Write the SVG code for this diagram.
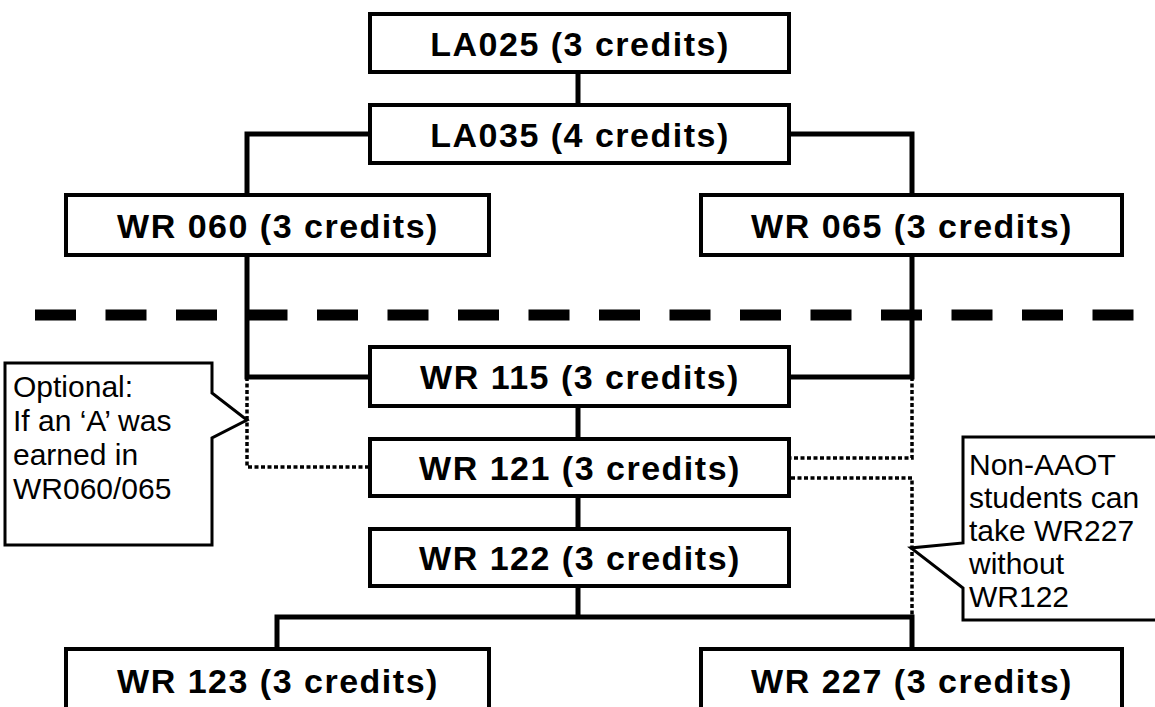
<svg xmlns="http://www.w3.org/2000/svg" width="1155" height="707" viewBox="0 0 1155 707">
<style>
.box{fill:#fff;stroke:#000;stroke-width:4}
.lbl{font-family:"Liberation Sans",Arial,sans-serif;font-weight:bold;font-size:34px;letter-spacing:1.5px;fill:#000;text-anchor:middle}
.con{fill:none;stroke:#000;stroke-width:5}
.dot{fill:none;stroke:#000;stroke-width:3.5;stroke-dasharray:4 2.5}
.call{fill:#fff;stroke:#000;stroke-width:3}
.ct{font-family:"Liberation Sans",Arial,sans-serif;font-size:30px;fill:#000}
</style>
<rect width="1155" height="707" fill="#fff"/>
<g id="divider">
<line x1="35" y1="315" x2="1134" y2="315" stroke="#000" stroke-width="11" stroke-dasharray="41 29.5"/>
</g>
<g id="connectors">
<path class="con" d="M578,72 V105"/>
<path class="con" d="M368,134 H247 V195"/>
<path class="con" d="M791,134 H912 V195"/>
<path class="con" d="M247,255 V377 H368"/>
<path class="con" d="M912,255 V377 H791"/>
<path class="con" d="M578,406 V439"/>
<path class="con" d="M578,496 V529"/>
<path class="con" d="M578,586 V617"/>
<path class="con" d="M277,649 V617 H912 V649"/>
<path class="dot" d="M247,377 V467 H368"/>
<path class="dot" d="M912,377 V458 H791"/>
<path class="dot" d="M791,478 H912 V617"/>
</g>
<g id="la025"><rect class="box" x="370" y="14" width="419" height="58"/><text class="lbl" x="580" y="56">LA025 (3 credits)</text></g>
<g id="la035"><rect class="box" x="370" y="105" width="419" height="58"/><text class="lbl" x="580" y="147">LA035 (4 credits)</text></g>
<g id="wr060"><rect class="box" x="66" y="195" width="423" height="60"/><text class="lbl" x="278" y="238">WR 060 (3 credits)</text></g>
<g id="wr065"><rect class="box" x="701" y="195" width="421" height="60"/><text class="lbl" x="912" y="238">WR 065 (3 credits)</text></g>
<g id="wr115"><rect class="box" x="370" y="347" width="419" height="59"/><text class="lbl" x="580" y="389">WR 115 (3 credits)</text></g>
<g id="wr121"><rect class="box" x="370" y="439" width="419" height="57"/><text class="lbl" x="580" y="480">WR 121 (3 credits)</text></g>
<g id="wr122"><rect class="box" x="370" y="529" width="419" height="57"/><text class="lbl" x="580" y="570">WR 122 (3 credits)</text></g>
<g id="wr123"><rect class="box" x="66" y="649" width="423" height="80"/><text class="lbl" x="278" y="693">WR 123 (3 credits)</text></g>
<g id="wr227"><rect class="box" x="701" y="649" width="421" height="80"/><text class="lbl" x="912" y="693">WR 227 (3 credits)</text></g>
<g id="note-optional">
<path class="call" d="M5,363 H212 V393 L247,420 L212,438 V545 H5 Z"/>
<text class="ct" x="13" y="397">Optional:</text>
<text class="ct" x="13" y="431">If an ‘A’ was</text>
<text class="ct" x="13" y="465">earned in</text>
<text class="ct" x="13" y="499">WR060/065</text>
</g>
<g id="note-nonaaot">
<path class="call" d="M963,437 H1160 V620 H963 V588 L911,548 L963,543 Z"/>
<text class="ct" x="969" y="475">Non-AAOT</text>
<text class="ct" x="969" y="508">students can</text>
<text class="ct" x="969" y="541">take WR227</text>
<text class="ct" x="969" y="574">without</text>
<text class="ct" x="969" y="607">WR122</text>
</g>
</svg>
